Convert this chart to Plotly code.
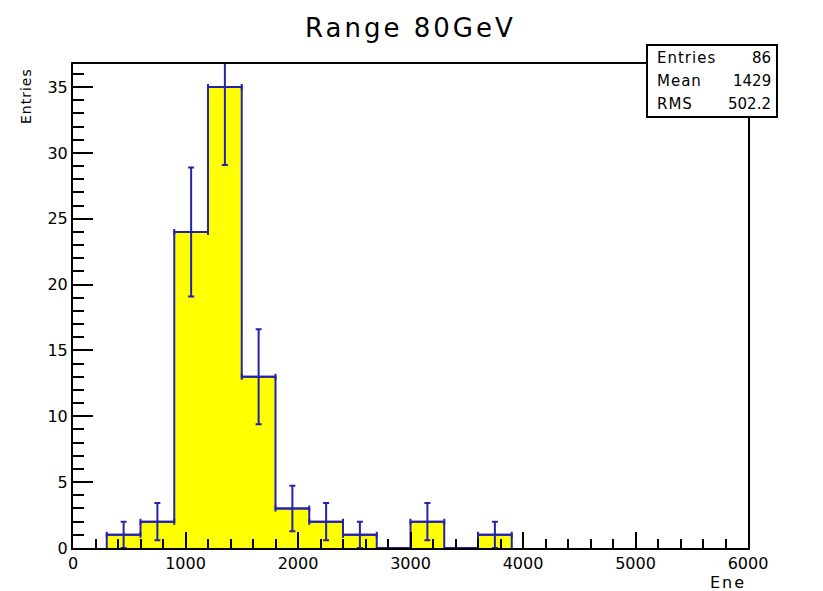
import plotly.graph_objects as go
import math

# Data (bin low edges, width 300)
bin_lo = [300, 600, 900, 1200, 1500, 1800, 2100, 2400, 2700, 3000, 3300, 3600]
counts = [1, 2, 24, 35, 13, 3, 2, 1, 0, 2, 0, 1]
bin_w = 300
stats_labels = ["Entries", "Mean", "RMS"]
stats_values = ["86", "1429", "502.2"]
title_text = "Range 80GeV"

centers = [b + bin_w / 2 for b in bin_lo]
BLUE = "#2424aa"
FAM = "DejaVu Sans, Liberation Sans, Arial, sans-serif"

# page has an 8px body margin; figure is sized to fit the window
OFF = 8
W, H = 823 - OFF, 591 - OFF
FL, FR, FT, FB = 73 - OFF, 748 - OFF, 64 - OFF, 548 - OFF

fig = go.Figure()
fig.add_trace(go.Bar(
    x=centers, y=counts, width=[bin_w] * len(centers),
    marker=dict(color="#ffff00", line=dict(width=0)),
    hoverinfo="skip", showlegend=False,
))
# step outline of the histogram
step_x = [bin_lo[0]] + bin_lo + [bin_lo[-1] + bin_w]
step_y = [0] + counts + [0]
fig.add_trace(go.Scatter(
    x=step_x, y=step_y, mode="lines", line=dict(color=BLUE, width=2, shape="hv"),
    hoverinfo="skip", showlegend=False,
))
nz = [i for i, c in enumerate(counts) if c > 0]
fig.add_trace(go.Scatter(
    x=[centers[i] for i in nz], y=[counts[i] for i in nz], mode="markers",
    marker=dict(size=1, color=BLUE),
    error_y=dict(type="data", array=[math.sqrt(counts[i]) for i in nz],
                 color=BLUE, thickness=2, width=3),
    error_x=dict(type="data", array=[bin_w / 2] * len(nz),
                 color=BLUE, thickness=2, width=3),
    showlegend=False, hoverinfo="skip",
))

font = dict(family=FAM, color="black")

fig.update_layout(
    width=W, height=H,
    margin=dict(l=FL, r=W - FR, t=FT, b=H - FB, pad=0, autoexpand=False),
    paper_bgcolor="white", plot_bgcolor="white",
    bargap=0,
    font=dict(family=FAM, size=15, color="black"),
    xaxis=dict(range=[0, 6000], dtick=1000, tick0=0, ticks="inside", ticklen=16,
               tickwidth=2, tickcolor="black", showgrid=False, zeroline=False,
               showline=True, linecolor="black", linewidth=2, mirror=True,
               minor=dict(dtick=200, ticks="inside", ticklen=9, tickwidth=2, tickcolor="black"),
               tickfont=dict(size=16, family=FAM)),
    yaxis=dict(range=[0, 36.75], dtick=5, tick0=0, ticks="inside", ticklen=20,
               tickwidth=2, tickcolor="black", showgrid=False, zeroline=False,
               showline=True, linecolor="black", linewidth=2, mirror=True,
               minor=dict(dtick=1, ticks="inside", ticklen=11, tickwidth=2, tickcolor="black"),
               tickfont=dict(size=16, family=FAM)),
)

def px(xp):
    return (xp - 73) / 675
def py(yp):
    return (548 - yp) / 484

# Title
fig.add_annotation(text='<span style="letter-spacing:3px">' + title_text + '</span>',
                   xref="paper", yref="paper", x=px(410), y=py(28),
                   xanchor="center", yanchor="middle", showarrow=False,
                   font=dict(size=26, **font))
# Axis titles
fig.add_annotation(text='<span style="letter-spacing:2px">Ene</span>', xref="paper", yref="paper",
                   x=px(748), y=py(582),
                   xanchor="right", yanchor="middle", showarrow=False,
                   font=dict(size=16, **font))
fig.add_annotation(text='<span style="letter-spacing:1px">Entries</span>', xref="paper", yref="paper",
                   x=px(26), y=py(66),
                   xanchor="center", yanchor="top", textangle=-90, showarrow=False,
                   font=dict(size=14, **font))

# Stats box
fig.add_shape(type="rect", xref="paper", yref="paper",
              x0=px(647), x1=px(777), y0=py(117), y1=py(45),
              line=dict(color="black", width=2), fillcolor="white", layer="above")
rows_y = [58, 81, 104]
for lab, val, yy in zip(stats_labels, stats_values, rows_y):
    fig.add_annotation(text='<span style="letter-spacing:1px">' + lab + '</span>',
                       xref="paper", yref="paper", x=px(655), y=py(yy),
                       xanchor="left", yanchor="middle", showarrow=False,
                       font=dict(size=15, **font))
    fig.add_annotation(text=val, xref="paper", yref="paper", x=px(773), y=py(yy),
                       xanchor="right", yanchor="middle", showarrow=False,
                       font=dict(size=15, **font))

fig.write_html("out.html")
